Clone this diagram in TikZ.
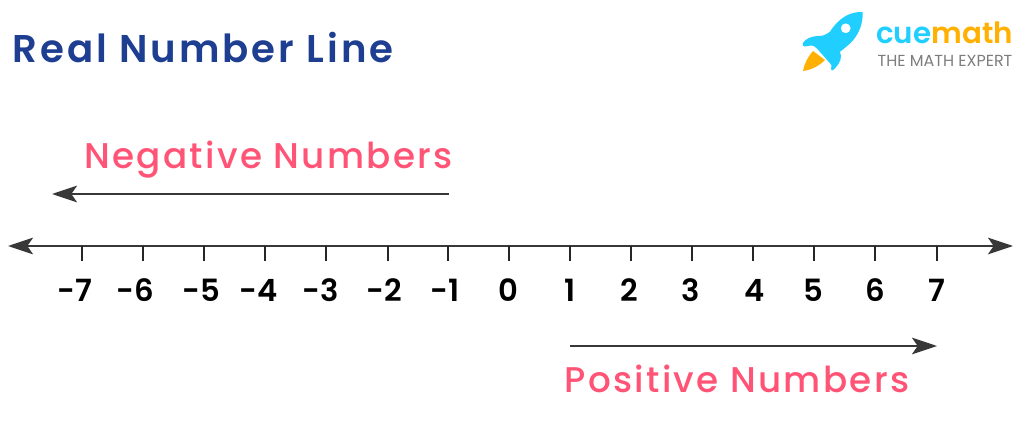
\documentclass[tikz,border=0pt]{standalone}
\usepackage{fontspec}
\usepackage{xcolor}
\setmainfont{Poppins}
\newfontfamily\titlefont[LetterSpace=7.8]{Poppins SemiBold}
\newfontfamily\pinkfont[LetterSpace=6.4]{Poppins Medium}
\newfontfamily\numfont{Poppins SemiBold}
\usetikzlibrary{arrows.meta}
\definecolor{lineGray}{RGB}{56, 56, 56}
\definecolor{titleBlue}{RGB}{29, 62, 145}
\definecolor{numPink}{RGB}{255, 84, 118}
\definecolor{rocketBlue}{RGB}{32, 207, 255}
\definecolor{rocketOrange}{RGB}{255, 176, 0}
\definecolor{logoGray}{RGB}{125, 125, 125}
\tikzset{>={Stealth[length=6.6mm,width=4.4mm,inset=1.5mm]}}
\tikzset{numline/.style={draw = lineGray, line width = 1.6pt}}
\tikzset{tick/.style={draw = black!85, line width = 1.6pt}}
\tikzset{numlabel/.style={font = \numfont\fontsize{23}{23}\selectfont, text = black}}
\tikzset{pinklabel/.style={font = \pinkfont\fontsize{26.8}{26.8}\selectfont, text = numPink}}
\begin{document}
\begin{tikzpicture}[x = 0.75pt, y = -0.75pt]
  \useasboundingbox (0, 0) rectangle (1024, 428);
  \node[font = \titlefont\fontsize{29}{29}\selectfont, text = titleBlue] (title) at (203, 48){Real Number Line};
  % logo
  \fill[rocketOrange] (813, 51) .. controls (807, 58) and (804, 65) .. (803, 71) .. controls (811, 70) and (819, 66) .. (825, 60) -- cycle;
  \fill[rocketBlue, even odd rule] (862.7, 12) .. controls (852, 11.5) and (840, 16) .. (830, 31.7) .. controls (824, 36) and (822, 36) .. (817, 36) .. controls (811, 36.5) and (805, 39) .. (802.7, 43.3) .. controls (802, 46.5) and (805, 47) .. (808, 46) .. controls (813, 44.5) and (815, 46.5) .. (818.3, 50) -- (828, 61) .. controls (832, 65) and (832.5, 67) .. (831, 69) .. controls (830.5, 71.5) and (833, 70.5) .. (835, 68.3) .. controls (840, 63) and (842.5, 58) .. (840, 51.7) .. controls (846, 47) and (850, 44) .. (853.3, 40) .. controls (859, 33) and (863, 24) .. (862.7, 12) -- cycle (845.7, 28.3) circle (5);
  \node[font = \numfont\fontsize{22}{22}\selectfont, text = rocketBlue, anchor = base west, inner sep = 0pt] (cue) at (876, 44){cue};
  \node[font = \numfont\fontsize{22}{22}\selectfont, text = rocketOrange, anchor = base west, inner sep = 0pt] (math) at (cue.base east){math};
  \node[font = \fontsize{12}{12}\selectfont, text = logoGray] (expert) at (945, 61){THE MATH EXPERT};
  % upper arrow
  \coordinate (negstart) at (449, 194);
  \coordinate (negend) at (52, 194);
  \node[pinklabel] (neg) at (268.5, 160){Negative Numbers};
  \draw[->, numline] (negstart) -- (negend);
  % number line
  \coordinate (axisleft) at (8, 246);
  \coordinate (axisright) at (1013, 246);
  \draw[<->, numline] (axisleft) -- (axisright);
  \foreach \n/\tx/\lx in {-7/82/75, -6/143/135, -5/204/201, -4/265/259, -3/326/321, -2/388/384, -1/448/445, 0/509/508, 1/570/570, 2/631/629, 3/692/691, 4/753/755, 5/814/813, 6/875/875, 7/937/937}{
    \coordinate (t\n) at (\tx, 246);
    \coordinate (b\n) at (\tx, 261);
    \draw[tick] (t\n) -- (b\n);
    \node[numlabel] (lab\n) at (\lx, 290){\n};
  }
  % lower arrow
  \coordinate (posstart) at (570, 346);
  \coordinate (posend) at (937, 346);
  \draw[->, numline] (posstart) -- (posend);
  \node[pinklabel] (pos) at (737, 379){Positive Numbers};
\end{tikzpicture}
\end{document}
